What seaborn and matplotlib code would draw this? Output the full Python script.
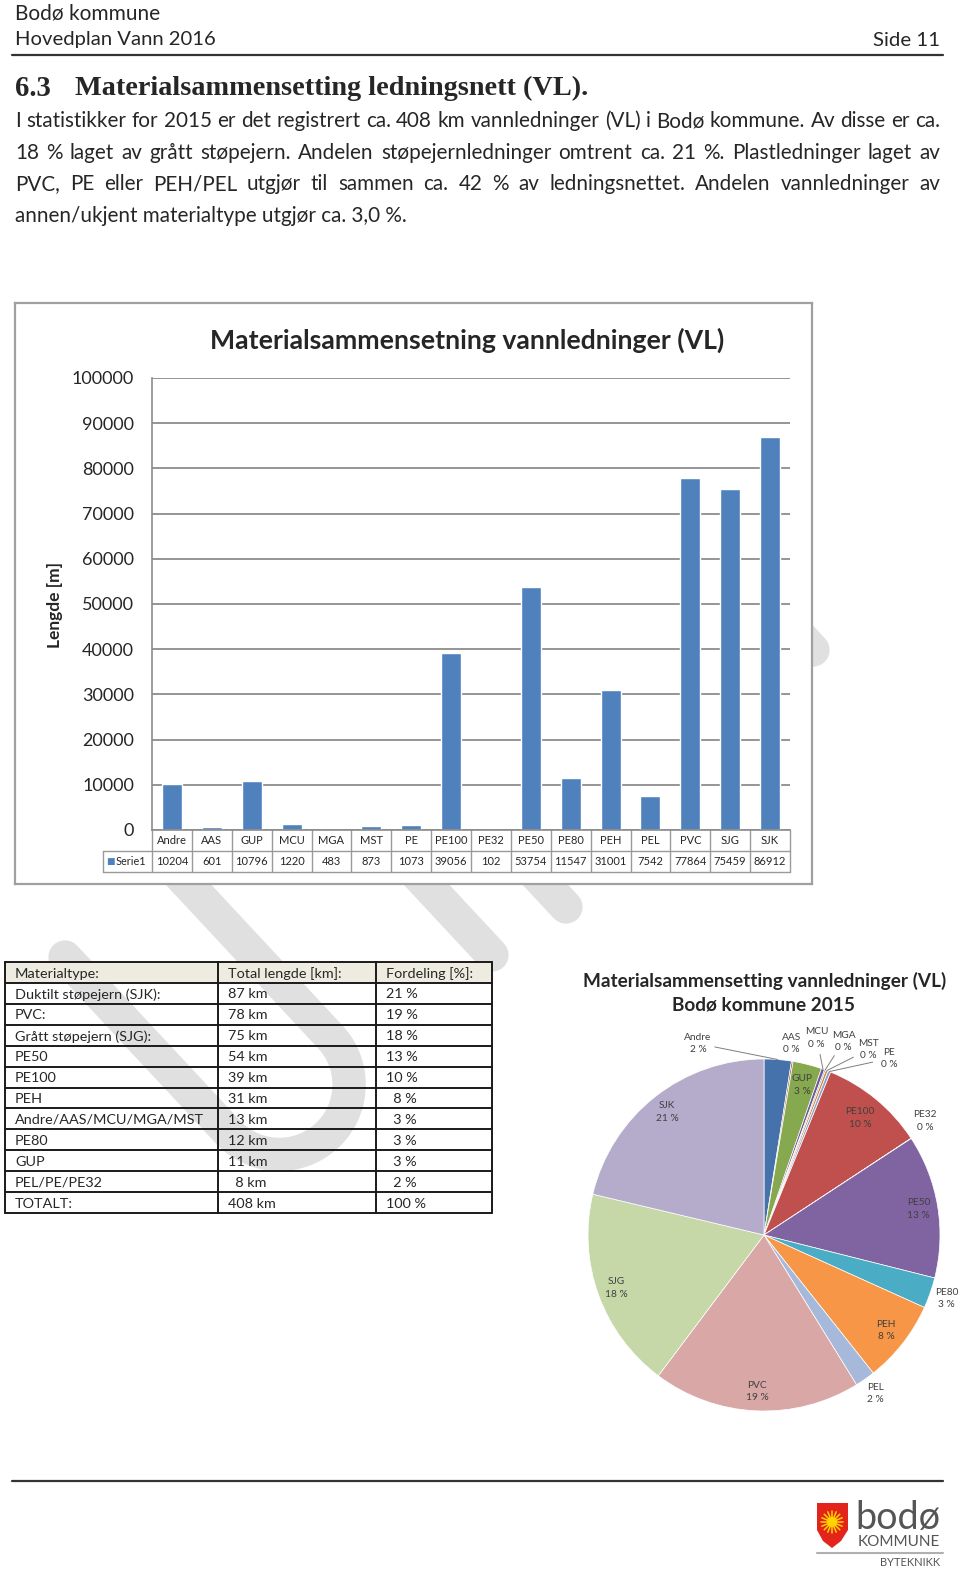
"""
Bodø kommune - Hovedplan Vann 2016, side 11
Materialsammensetning vannledninger (VL): stolpediagram, tabell og kakediagram
"""

import numpy as np
import pandas as pd
import matplotlib
matplotlib.use("Agg")
import matplotlib.pyplot as plt
import matplotlib.transforms as mtransforms
from matplotlib.patches import Rectangle, Polygon, Circle
import seaborn as sns

# ---------------------------------------------------------------- data
categories = ["Andre", "AAS", "GUP", "MCU", "MGA", "MST", "PE", "PE100",
              "PE32", "PE50", "PE80", "PEH", "PEL", "PVC", "SJG", "SJK"]
lengths_m = [10204, 601, 10796, 1220, 483, 873, 1073, 39056,
             102, 53754, 11547, 31001, 7542, 77864, 75459, 86912]
y_ticks = [0, 10000, 20000, 30000, 40000, 50000, 60000, 70000, 80000, 90000, 100000]

table_header = ["Materialtype:", "Total lengde [km]:", "Fordeling [%]:"]
table_types = ["Duktilt støpejern (SJK):", "PVC:", "Grått støpejern (SJG):", "PE50",
               "PE100", "PEH", "Andre/AAS/MCU/MGA/MST", "PE80", "GUP",
               "PEL/PE/PE32", "TOTALT:"]
table_km = ["87 km", "78 km", "75 km", "54 km", "39 km", "31 km", "13 km",
            "12 km", "11 km", "  8 km", "408 km"]
table_pct = ["21 %", "19 %", "18 %", "13 %", "10 %", "  8 %", "  3 %",
             "  3 %", "  3 %", "  2 %", "100 %"]

body_lines = [
    "I statistikker for 2015 er det registrert ca. 408 km vannledninger (VL) i Bodø kommune. Av disse er ca.",
    "18 % laget av grått støpejern. Andelen støpejernledninger omtrent ca. 21 %.  Plastledninger laget av",
    "PVC, PE eller PEH/PEL utgjør til sammen ca. 42 % av ledningsnettet. Andelen vannledninger av",
    "annen/ukjent materialtype utgjør ca. 3,0 %.",
]

# ---------------------------------------------------------------- style
bar_blue = "#4F81BD"
grid_gray = "#8c8c8c"
pie_colors = ["#4672AC", "#A9514E", "#86A84E", "#6F5A94", "#4497AE", "#D9853F",
              "#8FA3C6", "#C0504D", "#9BBB59", "#8064A2", "#4BACC6", "#F79646",
              "#A7B9DA", "#D9A7A6", "#C6D8A8", "#B5ABCB"]
# label radius (pie radii) and angular shift (deg) + leader line flag, per slice
pie_label_r = [1.15, 1.10, 0.88, 1.16, 1.19, 1.21, 1.23, 0.86,
               1.12, 0.89, 1.10, 0.88, 1.10, 0.89, 0.89, 0.89]
pie_label_shift = [23.5, 1, 0, 4.6, -2, -8.5, -13.6, 0,
                   2, 0, 0, 0, 0, 0, 0, 0]
pie_leader = [True, False, False, True, True, True, True, False,
              False, False, False, False, False, False, False, False]

sns.set_style("white")
plt.rcParams["font.family"] = ["Lato", "DejaVu Sans"]

W, H = 960, 1570
fig = plt.figure(figsize=(W / 100, H / 100), dpi=100)
fig.patch.set_facecolor("white")
renderer = fig.canvas.get_renderer()


def rect(x0, y0, x1, y1):
    return [x0 / W, 1 - y1 / H, (x1 - x0) / W, (y1 - y0) / H]


def fit(ax, s, x0, x1, y, size=12, **kw):
    # place text left at x0 and scale the font so it ends at x1
    t = ax.text(x0, y, s, fontsize=size, ha="left", va="center", **kw)
    w = t.get_window_extent(renderer).width
    t.set_fontsize(size * (x1 - x0) / w)
    return t


def justify(ax, s, x0, x1, y, size, **kw):
    words = s.split()
    ts = [ax.text(0, y, w, fontsize=size, ha="left", va="center", **kw) for w in words]
    widths = [t.get_window_extent(renderer).width for t in ts]
    gap = (x1 - x0 - sum(widths)) / (len(words) - 1)
    x = x0
    for t, w in zip(ts, widths):
        t.set_x(x)
        x += w + gap


# page background axes in pixel coordinates
bg = fig.add_axes([0, 0, 1, 1], zorder=0, label="page")
bg.set_xlim(0, W)
bg.set_ylim(H, 0)
bg.axis("off")

# ---------------------------------------------------------------- watermark (light gray strokes)
wm = dict(color="#e0e0e0", lw=24, solid_capstyle="round", solid_joinstyle="round", zorder=0)
u = np.array([0.68, 0.73])
p = np.array([0.73, -0.68])
L0 = np.array([65.0, 957.0])
arm, half = 240, 70
C = L0 + arm * u + half * p
ang = np.linspace(0, np.pi, 40)
curve = np.array([C - half * p * np.cos(a) + half * u * np.sin(a) for a in ang])
u_path = np.vstack([L0, curve, C + half * p - 320 * u])
bg.plot(u_path[:, 0], u_path[:, 1], **wm)
for end, length in [((492, 955), 160), ((566, 907), 110), ((813, 650), 80)]:
    e = np.array(end, dtype=float)
    s = e - length * u
    bg.plot([s[0], e[0]], [s[1], e[1]], **wm)

# ---------------------------------------------------------------- header
fit(bg, "Bodø kommune", 15, 160, 13, 15)
fit(bg, "Hovedplan Vann 2016", 15, 216, 40, 15)
fit(bg, "Side 11", 873, 940, 40, 15)
bg.plot([12, 943], [55, 55], color="#333333", lw=1.6)

fit(bg, "6.3", 15, 51, 88, 18, family="Liberation Serif", fontweight="bold")
fit(bg, "Materialsammensetting ledningsnett (VL).", 75, 588, 88, 18,
    family="Liberation Serif", fontweight="bold")

t = fit(bg, body_lines[0], 15, 940, 121, 15)
body_size = t.get_fontsize()
t.remove()
for i, line in enumerate(body_lines):
    y = 121 + i * 31.7
    if i < len(body_lines) - 1:
        justify(bg, line, 15, 940, y, body_size)
    else:
        bg.text(15, y, line, fontsize=body_size, ha="left", va="center")

# ---------------------------------------------------------------- bar chart frame
frame = fig.add_axes(rect(15, 303, 812, 884), zorder=1, label="frame")
frame.set_xlim(15, 812)
frame.set_ylim(884, 303)
frame.set_xticks([])
frame.set_yticks([])
frame.set_facecolor("white")
for sp in frame.spines.values():
    sp.set_color("#a0a0a0")
    sp.set_linewidth(1.6)

fit(frame, "Materialsammensetning vannledninger (VL)", 210, 727, 340, 16, fontweight="bold")
frame.text(55, 605, "Lengde [m]", rotation=90, fontsize=12.5, fontweight="bold",
           ha="center", va="center")

ax = fig.add_axes(rect(152, 378, 790, 830), zorder=2, label="bars")
df = pd.DataFrame({"Materialtype": categories, "Lengde": lengths_m})
sns.barplot(data=df, x="Materialtype", y="Lengde", ax=ax, color=bar_blue,
            saturation=1, width=0.5)
n = len(categories)
ax.set_xlim(-0.5, n - 0.5)
ax.set_ylim(0, 100000)
ax.set_yticks(y_ticks)
ax.set_yticklabels([str(v) for v in y_ticks])
ax.tick_params(axis="y", length=0, pad=13, labelsize=13)
ax.set_xticks([])
ax.set_xlabel("")
ax.set_ylabel("")
ax.grid(axis="y", color=grid_gray, lw=1.3)
ax.set_axisbelow(True)
ax.patch.set_alpha(0)
for s in ["top", "right"]:
    ax.spines[s].set_visible(False)
for s in ["left", "bottom"]:
    ax.spines[s].set_color(grid_gray)
    ax.spines[s].set_linewidth(1.2)

# data table under the bars
tr = mtransforms.blended_transform_factory(ax.transData, ax.transAxes)
plot_h = 830 - 378
col_px = (790 - 152) / n
rh = 21 / plot_h
x_left = -0.5 - 49 / col_px
lk = dict(color="#9a9a9a", lw=1, transform=tr, clip_on=False)
ax.plot([x_left, n - 0.5], [-rh, -rh], **lk)
ax.plot([x_left, n - 0.5], [-2 * rh, -2 * rh], **lk)
for k in range(n + 1):
    ax.plot([k - 0.5, k - 0.5], [0, -2 * rh], **lk)
ax.plot([x_left, x_left], [-rh, -2 * rh], **lk)
for i, (c, v) in enumerate(zip(categories, lengths_m)):
    ax.text(i, -0.5 * rh, c, transform=tr, ha="center", va="center", fontsize=8,
            color="#262626", clip_on=False)
    ax.text(i, -1.5 * rh, str(v), transform=tr, ha="center", va="center", fontsize=8,
            color="#262626", clip_on=False)
ax.text(x_left + 3 / col_px, -1.5 * rh, "■", transform=tr, ha="left", va="center",
        fontsize=6.5, color=bar_blue, clip_on=False, family="DejaVu Sans")
ax.text(x_left + 13 / col_px, -1.5 * rh, "Serie1", transform=tr, ha="left", va="center",
        fontsize=7.8, color="#262626", clip_on=False)

# ---------------------------------------------------------------- summary table
col_x = [5, 218, 376, 492]
top, row_h = 962, (1213 - 962) / 12
bg.add_patch(Rectangle((col_x[0], top), col_x[-1] - col_x[0], row_h,
                       facecolor="#EEECE1", edgecolor="none", zorder=1))
for r in range(13):
    bg.plot([col_x[0], col_x[-1]], [top + r * row_h] * 2, color="#1a1a1a", lw=1.4, zorder=2)
for x in col_x:
    bg.plot([x, x], [top, top + 12 * row_h], color="#1a1a1a", lw=1.4, zorder=2)
t = fit(bg, "Andre/AAS/MCU/MGA/MST", 15, 204, 0, 11)
tab_size = t.get_fontsize()
t.remove()
rows = [table_header] + [list(r) for r in zip(table_types, table_km, table_pct)]
for r, row in enumerate(rows):
    yc = top + (r + 0.55) * row_h
    for c, txt in enumerate(row):
        bg.text(col_x[c] + 10, yc, txt, fontsize=tab_size, ha="left", va="center", zorder=3)

# ---------------------------------------------------------------- pie chart
fit(bg, "Materialsammensetting vannledninger (VL)", 583, 945, 981, 12, fontweight="bold")
bg.text(764, 1005, "Bodø kommune 2015", fontsize=bg.texts[-1].get_fontsize(),
        fontweight="bold", ha="center", va="center")

R = 176
pax = fig.add_axes(rect(764 - R, 1235 - R, 764 + R, 1235 + R), zorder=2, label="pie")
wedges, _ = pax.pie(lengths_m, colors=pie_colors, startangle=90, counterclock=False,
                    radius=1, wedgeprops=dict(edgecolor="white", linewidth=0.5))
pax.set_xlim(-1, 1)
pax.set_ylim(-1, 1)
pax.axis("off")
total = sum(lengths_m)
for i, w in enumerate(wedges):
    mid = np.deg2rad((w.theta1 + w.theta2) / 2)
    la = mid + np.deg2rad(pie_label_shift[i])
    lx, ly = pie_label_r[i] * np.cos(la), pie_label_r[i] * np.sin(la)
    pct = int(round(100 * lengths_m[i] / total))
    pax.text(lx, ly, f"{categories[i]}\n{pct} %", ha="center", va="center",
             fontsize=7.3, color="#404040", linespacing=1.5, clip_on=False)
    if pie_leader[i]:
        ex, ey = np.cos(mid), np.sin(mid)
        d = np.hypot(ex - lx, ey - ly)
        f = (17 / R) / d
        pax.plot([lx + (ex - lx) * f, ex], [ly + (ey - ly) * f, ey], color="#7f7f7f",
                 lw=0.7, clip_on=False)

# ---------------------------------------------------------------- footer + logo
bg.plot([12, 943], [1481, 1481], color="#333333", lw=1.6)
bg.add_patch(Polygon([(817, 1503), (848, 1503), (848, 1530), (841, 1541), (832, 1548),
                      (823, 1541), (817, 1530)], closed=True, facecolor="#E3241B",
                     edgecolor="none", zorder=2))
for a in np.linspace(0, 2 * np.pi, 16, endpoint=False):
    bg.plot([832, 832 + 11 * np.cos(a)], [1522, 1522 + 11 * np.sin(a)], color="#FFD400",
            lw=1.1, zorder=3)
bg.add_patch(Circle((832, 1522), 5, facecolor="#FFD400", edgecolor="none", zorder=4))
fit(bg, "bodø", 855, 940, 1518, 24, color="#555555")
fit(bg, "KOMMUNE", 858, 940, 1542, 9, color="#555555")
bg.plot([817, 943], [1553, 1553], color="#b0b0b0", lw=1.5)
fit(bg, "BYTEKNIKK", 880, 940, 1563, 7, color="#555555")

plt.savefig("out.png", dpi=100, facecolor="white")
